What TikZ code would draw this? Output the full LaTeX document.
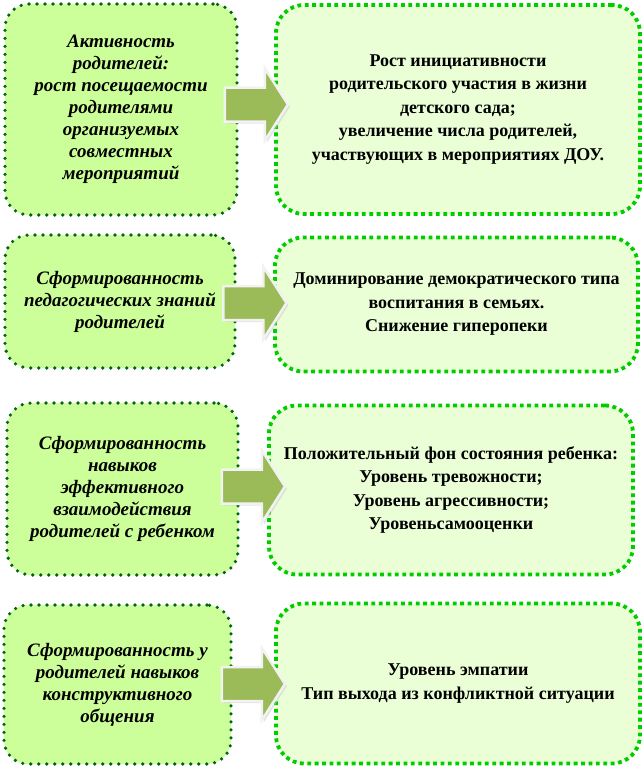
\documentclass[tikz,border=0pt]{standalone}
\usepackage{fontspec}
\setmainfont{Liberation Serif}
\usetikzlibrary{shadows,calc}
\definecolor{factorfill}{RGB}{204,255,153}
\definecolor{factordots}{RGB}{0,100,20}
\definecolor{resultfill}{RGB}{235,255,215}
\definecolor{resultdots}{RGB}{0,205,0}
\definecolor{arrowfill}{RGB}{155,187,89}
\begin{document}
\begin{tikzpicture}[x=1pt,y=-1pt]
    \tikzset{factor/.style = {shape=rectangle, rounded corners=24pt, fill=factorfill, draw=factordots,
        line width=3.6pt, dash pattern=on 0pt off 8pt, line cap=round, align=center,
        font=\fontsize{19}{22}\selectfont\bfseries\itshape}}
    \tikzset{result/.style = {shape=rectangle, rounded corners=28pt, fill=resultfill, draw=resultdots,
        line width=3.8pt, dash pattern=on 3.8pt off 3.6pt, align=center,
        font=\fontsize{18}{23.5}\selectfont\bfseries}}
    \tikzset{blockarrow/.style = {fill=arrowfill, draw=white!90!gray, line width=2.5pt, line join=miter,
        drop shadow={shadow xshift=2pt, shadow yshift=-2pt, fill=gray!45}}}
    \useasboundingbox (0,0) rectangle (643,768);
    \node[factor, minimum width=232pt, minimum height=211pt] (f1) at (121,109.5)
        {Активность\\ родителей:\\ рост посещаемости\\ родителями\\ организуемых\\ совместных\\ мероприятий};
    \node[result, minimum width=364pt, minimum height=209pt] (r1) at (458,109.5)
        {Рост инициативности\\ родительского участия в жизни\\ детского сада;\\ увеличение числа родителей,\\ участвующих в мероприятиях ДОУ.};
    \node[factor, minimum width=230pt, minimum height=133pt] (f2) at (120,301.5)
        {Сформированность\\ педагогических знаний\\ родителей};
    \node[result, minimum width=363pt, minimum height=134pt] (r2) at (456.5,304.5)
        {Доминирование демократического типа\\ воспитания в семьях.\\ Снижение гиперопеки};
    \node[factor, minimum width=231pt, minimum height=172pt] (f3) at (122.5,489)
        {Сформированность\\ навыков\\ эффективного\\ взаимодействия\\ родителей с ребенком};
    \node[result, minimum width=364pt, minimum height=169pt] (r3) at (451,490)
        {Положительный фон состояния ребенка:\\ Уровень тревожности;\\ Уровень агрессивности;\\ Уровеньсамооценки};
    \node[factor, minimum width=227pt, minimum height=159pt] (f4) at (117.5,684.5)
        {Сформированность у\\ родителей навыков\\ конструктивного\\ общения};
    \node[result, minimum width=364pt, minimum height=160pt] (r4) at (458,683.5)
        {Уровень эмпатии\\ Тип выхода из конфликтной ситуации};
    % arrows between the boxes
    \coordinate (a1) at ($(f1.east)!0.5!(r1.west)+(0,-5)$);
    \coordinate (a2) at ($(f2.east)!0.5!(r2.west)$);
    \coordinate (a3) at ($(f3.east)!0.5!(r3.west)+(0,-3)$);
    \coordinate (a4) at ($(f4.east)!0.5!(r4.west)$);
    \foreach \a in {a1,a2,a3,a4}
        \draw[blockarrow] (\a) ++(-31.5,-17) -- ++(40,0) -- ++(0,-19) -- ++(23,36)
            -- ++(-23,36) -- ++(0,-19) -- ++(-40,0) -- cycle;
\end{tikzpicture}
\end{document}
